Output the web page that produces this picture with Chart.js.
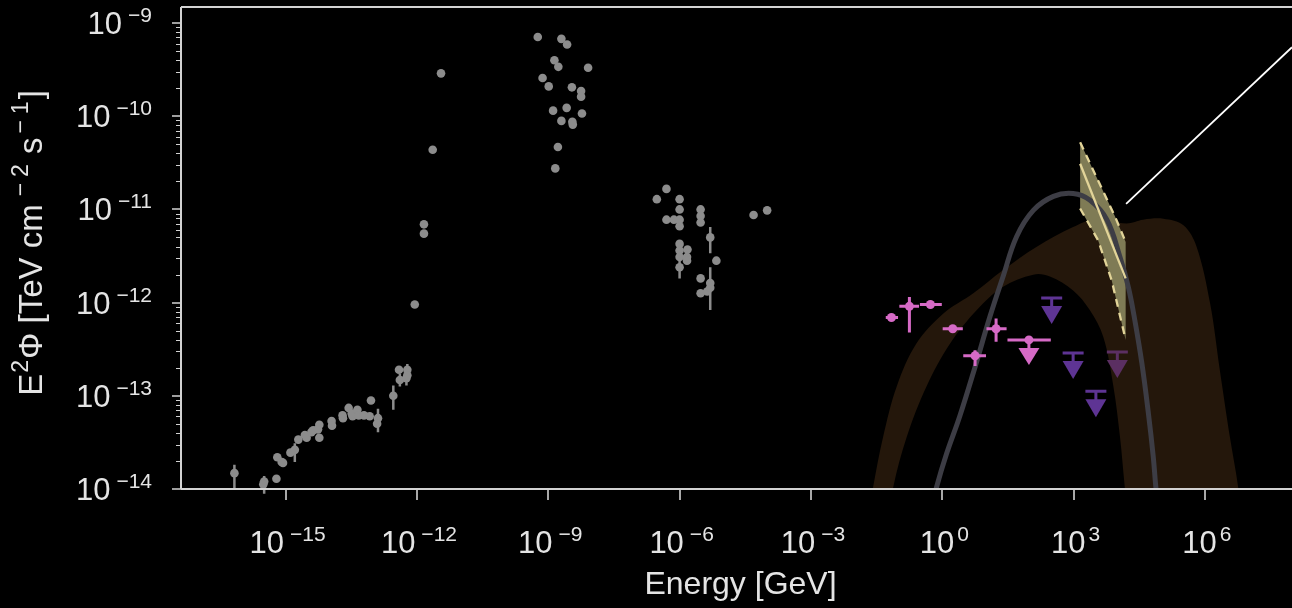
<!DOCTYPE html>
<html><head><meta charset="utf-8">
<script src="https://cdn.jsdelivr.net/npm/chart.js@4/dist/chart.umd.min.js"></script>
<style>html,body{margin:0;padding:0;background:#000;overflow:hidden}</style>
</head><body><canvas id="c" width="1292" height="608"></canvas>
<script>
// ===== data: log10 values =====
const xRangeLog = [-17.39, 7.99];          // Energy [GeV]
const yRangeLog = [-14, -8.828];          // E^2 Phi [TeV cm^-2 s^-1]
const xTickExps = [-15, -12, -9, -6, -3, 0, 3, 6];
const yTickExps = [-14, -13, -12, -11, -10, -9];
const xTitle = 'Energy [GeV]';

// archival multi-wavelength points (grey)
const grayLogE = [-16.17,-15.49,-15.51,-15.21,-15.19,-15.09,-15.06,-14.89,-14.79,-14.71,-14.56,-14.52,-14.41,-14.37,-14.23,-14.23,-14.26,-13.95,-13.94,-13.70,-13.69,-13.56,-13.49,-13.47,-13.36,-13.33,-13.21,-13.08,-13.05,-12.89,-12.91,-12.54,-12.39,-12.41,-12.22,-12.22,-12.24,
  -12.05,-11.84,-11.84,-11.64,-11.45,
  -9.24,-8.70,-8.57,-8.86,-8.77,-8.09,-9.13,-8.99,-8.46,-8.25,-8.25,-8.89,-8.58,-8.23,-8.70,-8.45,-8.44,-8.78,-8.84,
  -6.30,-6.52,-6.00,-6.00,-6.30,-6.13,-6.00,-6.00,-5.52,-5.52,-5.52,-5.30,-6.00,-6.00,-5.82,-6.00,-5.83,-5.83,-6.00,-5.16,-5.52,-5.30,-5.52,-5.37,-5.30,-4.31,-4.00];
const grayLogF = [-13.83,-13.92,-13.95,-13.89,-13.66,-13.71,-13.72,-13.61,-13.58,-13.47,-13.42,-13.45,-13.39,-13.37,-13.31,-13.45,-13.36,-13.27,-13.32,-13.21,-13.24,-13.13,-13.19,-13.22,-13.15,-13.21,-13.21,-13.22,-13.05,-13.24,-13.30,-13.00,-12.83,-12.72,-12.72,-12.78,-12.81,
  -12.02,-11.16,-11.26,-10.36,-9.54,
  -9.15,-9.17,-9.23,-9.40,-9.47,-9.48,-9.59,-9.68,-9.69,-9.73,-9.79,-9.94,-9.91,-9.97,-10.05,-10.06,-10.09,-10.33,-10.56,
  -10.78,-10.89,-10.89,-11.00,-11.11,-11.11,-11.11,-11.18,-11.00,-11.07,-11.14,-11.30,-11.37,-11.44,-11.43,-11.51,-11.51,-11.55,-11.62,-11.55,-11.74,-11.79,-11.90,-11.88,-11.84,-11.06,-11.01];
// grey vertical error bars: energy, low, high
const grayBarLogE = [-16.17,-15.49,-14.79,-12.89,-12.54,-12.39,-12.22,-12.24,-5.30,-6.00,-5.30];
const grayBarLo   = [-13.99,-14.05,-13.71,-13.39,-13.15,-12.90,-12.81,-12.89,-11.47,-11.74,-12.08];
const grayBarHi   = [-13.74,-13.86,-13.51,-13.14,-12.89,-12.76,-12.66,-12.72,-11.19,-11.51,-11.62];

// pink flux points with energy bins and flux errors
const pinkLogE = [-1.16,-0.75,-0.27,0.24,0.75,1.23];
const pinkLogF = [-12.16,-12.04,-12.02,-12.28,-12.57,-12.28];
const pinkXLo  = [-1.29,-0.98,-0.51,0.01,0.48,1.01];
const pinkXHi  = [-1.01,-0.53,-0.01,0.47,1.00,1.47];
const pinkYLo  = [null,-12.32,null,-12.31,-12.68,-12.42];
const pinkYHi  = [null,-11.94,null,-12.25,-12.51,-12.17];
// pink upper limit with energy bin
const pinkULLogE = [1.98];
const pinkULLogF = [-12.40];
const pinkULXLo  = [1.49];
const pinkULXHi  = [2.48];

// purple upper limits
const purpleULLogE = [2.50, 2.99, 3.51];
const purpleULLogF = [-11.95, -12.54, -12.95];
const mauveULLogE  = [4.00];
const mauveULLogF  = [-12.53];

// model curve (dark grey)
const curveLogE = [-0.19,-0.13,0.10,0.40,0.75,1.09,1.39,1.70,2.08,2.54,2.99,3.37,3.76,4.06,4.25,4.40,4.56,4.71,4.82,4.88,4.92];
const curveLogF = [-14.12,-13.98,-13.62,-13.22,-12.69,-12.15,-11.72,-11.29,-11.01,-10.86,-10.83,-10.90,-11.11,-11.51,-11.83,-12.19,-12.65,-13.19,-13.65,-13.98,-14.12];

// model band (brown): upper and lower edges
const bandUpLogE = [-1.70,-1.58,-1.35,-1.04,-0.59,0.02,0.71,1.39,2.16,2.99,3.45,4.21,4.59,5.05,5.51,5.81,6.12,6.34,6.57,6.76,6.82];
const bandUpLogF = [-14.30,-13.98,-13.44,-12.90,-12.44,-12.12,-11.90,-11.65,-11.40,-11.19,-11.11,-11.15,-11.11,-11.10,-11.17,-11.40,-12.01,-12.72,-13.44,-13.98,-14.30];
const bandLoLogE = [-1.20,-1.12,-0.81,-0.36,0.18,0.79,1.39,2.08,2.46,2.99,3.37,3.68,3.91,4.06,4.17,4.24];
const bandLoLogF = [-14.30,-13.98,-13.44,-12.90,-12.44,-12.08,-11.83,-11.70,-11.72,-11.87,-12.08,-12.37,-12.90,-13.44,-13.98,-14.30];

// spectral butterfly (pale yellow)
const bflyUpLogE = [3.15, 3.56, 3.95, 4.19];
const bflyUpLogF = [-10.28, -10.69, -11.08, -11.35];
const bflyLoLogE = [3.15, 3.56, 3.87, 4.19];
const bflyLoLogF = [-10.99, -11.33, -11.76, -12.40];
const bflyFitLogE = [3.15, 4.19];
const bflyFitLogF = [-10.51, -11.74];

// thin white line
const whiteLogE = [4.20, 7.99];
const whiteLogF = [-10.94, -9.26];

// ===== helpers =====
const pts = (le, lf) => le.map((e, i) => ({x: 10 ** e, y: 10 ** lf[i]}));
const FONT = '"Liberation Sans", Arial, sans-serif';
const TXT = '#e4e4e4';
const SPINE = '#d2d2d2';
const GRAY = '#8c8c8c', PINK = '#d66ac6', PURPLE = '#5e3494', MAUVE = '#5b2f62';

const bandPoly = pts(bandUpLogE, bandUpLogF).concat(pts(bandLoLogE, bandLoLogF).reverse());
const bflyPoly = pts(bflyUpLogE, bflyUpLogF).concat(pts(bflyLoLogE, bflyLoLogF).reverse());

function drawUL(ctx, x, y, color) {
  ctx.save();
  ctx.strokeStyle = color; ctx.fillStyle = color; ctx.lineWidth = 3;
  ctx.beginPath(); ctx.moveTo(x - 10.5, y); ctx.lineTo(x + 10.5, y);
  ctx.moveTo(x, y); ctx.lineTo(x, y + 9); ctx.stroke();
  ctx.beginPath(); ctx.moveTo(x - 10.5, y + 8); ctx.lineTo(x + 10.5, y + 8); ctx.lineTo(x, y + 26); ctx.closePath(); ctx.fill();
  ctx.restore();
}
function drawArrowDown(ctx, x, y, color) {
  ctx.save();
  ctx.strokeStyle = color; ctx.fillStyle = color; ctx.lineWidth = 3;
  ctx.beginPath(); ctx.moveTo(x, y); ctx.lineTo(x, y + 9); ctx.stroke();
  ctx.beginPath(); ctx.moveTo(x - 10.5, y + 8); ctx.lineTo(x + 10.5, y + 8); ctx.lineTo(x, y + 25); ctx.closePath(); ctx.fill();
  ctx.restore();
}
function drawPow(ctx, exp, x, yBase, align) {
  const base = '10', sup = exp < 0 ? '\u2212' + Math.abs(exp) : String(exp);
  const bf = '31px ' + FONT, sf = '21px ' + FONT;
  ctx.font = bf; const wb = ctx.measureText(base).width;
  ctx.font = sf; const ws = ctx.measureText(sup).width;
  const gap = exp < 0 ? 6 : 3;
  const total = wb + gap + ws;
  const x0 = align === 'right' ? x - total : x - total / 2;
  ctx.textAlign = 'left'; ctx.textBaseline = 'alphabetic'; ctx.fillStyle = TXT;
  ctx.font = bf; ctx.fillText(base, x0, yBase);
  ctx.font = sf; ctx.fillText(sup, x0 + wb + gap, yBase - 12);
}

const sedPlugin = {
  id: 'sed',
  beforeDraw(chart) {
    const ctx = chart.ctx; ctx.save(); ctx.fillStyle = '#000'; ctx.fillRect(0, 0, chart.width, chart.height); ctx.restore();
  },
  beforeDatasetDraw(chart, args) {
    const ds = chart.data.datasets[args.index];
    const xs = chart.scales.x, ys = chart.scales.y, ctx = chart.ctx;
    if (ds.kind === 'grayBars') {
      ctx.save(); ctx.strokeStyle = GRAY; ctx.lineWidth = 2.5; ctx.beginPath();
      grayBarLogE.forEach((e, i) => {
        const px = xs.getPixelForValue(10 ** e);
        ctx.moveTo(px, ys.getPixelForValue(10 ** grayBarLo[i]));
        ctx.lineTo(px, ys.getPixelForValue(10 ** grayBarHi[i]));
      });
      ctx.stroke(); ctx.restore();
    }
    if (ds.kind === 'pink') {
      ctx.save(); ctx.strokeStyle = PINK; ctx.lineWidth = 3; ctx.beginPath();
      pinkLogE.forEach((e, i) => {
        const px = xs.getPixelForValue(10 ** e), py = ys.getPixelForValue(10 ** pinkLogF[i]);
        ctx.moveTo(xs.getPixelForValue(10 ** pinkXLo[i]), py); ctx.lineTo(xs.getPixelForValue(10 ** pinkXHi[i]), py);
        if (pinkYLo[i] !== null) { ctx.moveTo(px, ys.getPixelForValue(10 ** pinkYLo[i])); ctx.lineTo(px, ys.getPixelForValue(10 ** pinkYHi[i])); }
      });
      ctx.stroke(); ctx.restore();
    }
    if (ds.kind === 'pinkUL') {
      ctx.save(); ctx.strokeStyle = PINK; ctx.lineWidth = 3; ctx.beginPath();
      pinkULLogE.forEach((e, i) => {
        const py = ys.getPixelForValue(10 ** pinkULLogF[i]);
        ctx.moveTo(xs.getPixelForValue(10 ** pinkULXLo[i]), py); ctx.lineTo(xs.getPixelForValue(10 ** pinkULXHi[i]), py);
      });
      ctx.stroke(); ctx.restore();
      chart.getDatasetMeta(args.index).data.forEach(p => drawArrowDown(ctx, p.x, p.y, PINK));
    }
  },
  afterDatasetDraw(chart, args) {
    const ds = chart.data.datasets[args.index];
    if (ds.kind === 'ul') chart.getDatasetMeta(args.index).data.forEach(p => drawUL(chart.ctx, p.x, p.y, ds.ulColor));
  },
  afterDraw(chart) {
    const ctx = chart.ctx, a = chart.chartArea, xs = chart.scales.x, ys = chart.scales.y;
    ctx.save();
    ctx.strokeStyle = SPINE; ctx.lineWidth = 2;
    ctx.beginPath();
    ctx.moveTo(a.left, a.top); ctx.lineTo(a.right, a.top);
    ctx.moveTo(a.left, a.top); ctx.lineTo(a.left, a.bottom);
    ctx.moveTo(a.left, a.bottom); ctx.lineTo(a.right, a.bottom);
    ctx.stroke();
    // y ticks (major + minor)
    ctx.beginPath(); ctx.lineWidth = 1.6;
    yTickExps.forEach(e => { const py = Math.round(ys.getPixelForValue(10 ** e)); ctx.moveTo(a.left - 9, py); ctx.lineTo(a.left, py); });
    ctx.stroke();
    ctx.beginPath(); ctx.lineWidth = 1.2;
    yTickExps.forEach(e => { for (let m = 2; m <= 9; m++) { const v = m * 10 ** e; if (v > 10 ** yRangeLog[1]) continue; const py = Math.round(ys.getPixelForValue(v)) + 0.5; ctx.moveTo(a.left - 5, py); ctx.lineTo(a.left, py); } });
    ctx.stroke();
    // x ticks
    ctx.beginPath(); ctx.lineWidth = 1.6;
    xTickExps.forEach(e => { const px = Math.round(xs.getPixelForValue(10 ** e)); ctx.moveTo(px, a.bottom + 1); ctx.lineTo(px, a.bottom + 11); });
    ctx.stroke();
    // tick labels
    yTickExps.forEach(e => drawPow(ctx, e, 152, ys.getPixelForValue(10 ** e) + 11, 'right'));
    xTickExps.forEach(e => drawPow(ctx, e, xs.getPixelForValue(10 ** e) + 2, 553, 'center'));
    // x title
    ctx.fillStyle = TXT; ctx.font = '32px ' + FONT; ctx.textAlign = 'center'; ctx.textBaseline = 'alphabetic';
    ctx.fillText(xTitle, (a.left + 1292) / 2 + 4, 594);
    // y title (rotated, with mathtext-like superscripts)  [text, isSup, spaceBefore]
    const parts = [['E', 0, 0], ['2', 1, 1], ['\u03A6 [TeV cm', 0, 1], ['\u2212', 1, 8], ['2', 1, 6], ['s', 0, 10], ['\u2212', 1, 4], ['1', 1, 6], [']', 0, 2]];
    const nf = '33px ' + FONT, sf = '23px ' + FONT;
    let total = 0;
    const widths = parts.map(([t, s, sp]) => { ctx.font = s ? sf : nf; const w = ctx.measureText(t).width; total += w + sp; return w; });
    ctx.translate(42, 243); ctx.rotate(-Math.PI / 2);
    let x = -total / 2; ctx.textAlign = 'left'; ctx.fillStyle = TXT;
    parts.forEach(([t, s, sp], i) => { x += sp; ctx.font = s ? sf : nf; ctx.fillText(t, x, s ? -14 : 0); x += widths[i]; });
    ctx.restore();
  }
};

const lineDs = (data, color, width, order, extra) => Object.assign({
  data, showLine: true, borderColor: color, borderWidth: width, pointRadius: 0, fill: false, order, clip: 0, tension: 0
}, extra || {});

new Chart(document.getElementById('c'), {
  type: 'scatter',
  data: {
    datasets: [
      lineDs(pts(whiteLogE, whiteLogF), '#ffffff', 1.8, 0),
      {kind: 'pinkUL', data: pts(pinkULLogE, pinkULLogF), pointRadius: 4.5, backgroundColor: PINK, borderWidth: 0, order: 1, clip: false},
      {kind: 'pink', data: pts(pinkLogE, pinkLogF), pointRadius: 4.5, backgroundColor: PINK, borderWidth: 0, order: 2, clip: false},
      {kind: 'ul', ulColor: PURPLE, data: pts(purpleULLogE, purpleULLogF), pointRadius: 0, order: 3, clip: false},
      {kind: 'ul', ulColor: MAUVE, data: pts(mauveULLogE, mauveULLogF), pointRadius: 0, order: 4, clip: false},
      {kind: 'grayBars', data: pts(grayLogE, grayLogF), pointRadius: 4.3, backgroundColor: GRAY, borderWidth: 0, order: 5, clip: false},
      lineDs(pts(bflyFitLogE, bflyFitLogF), '#e2d498', 2.3, 6),
      lineDs(pts(bflyUpLogE, bflyUpLogF), '#e2d498', 2.3, 7, {borderDash: [8, 6]}),
      lineDs(pts(bflyLoLogE, bflyLoLogF), '#e2d498', 2.3, 8, {borderDash: [8, 6]}),
      lineDs(pts(curveLogE, curveLogF), '#3d3d45', 5, 9, {tension: 0.4}),
      lineDs(bflyPoly, 'rgba(0,0,0,0)', 0, 10, {fill: 'shape', backgroundColor: '#7f7b55'}),
      lineDs(bandPoly, 'rgba(0,0,0,0)', 0, 12, {fill: 'shape', backgroundColor: '#24170b', tension: 0.35})
    ]
  },
  options: {
    responsive: false, animation: false, devicePixelRatio: 1, events: [],
    layout: {autoPadding: false, padding: {left: 181, top: 7, right: 0, bottom: 119}},
    plugins: {legend: {display: false}, tooltip: {enabled: false}},
    scales: {
      x: {type: 'logarithmic', display: false, bounds: 'data', min: 10 ** xRangeLog[0], max: 10 ** xRangeLog[1],
          afterBuildTicks(s) { s.ticks = xTickExps.map(e => ({value: 10 ** e})); }},
      y: {type: 'logarithmic', display: false, bounds: 'data', min: 10 ** yRangeLog[0], max: 10 ** yRangeLog[1],
          afterBuildTicks(s) { s.ticks = yTickExps.map(e => ({value: 10 ** e})); }}
    }
  },
  plugins: [sedPlugin]
});
</script></body></html>
